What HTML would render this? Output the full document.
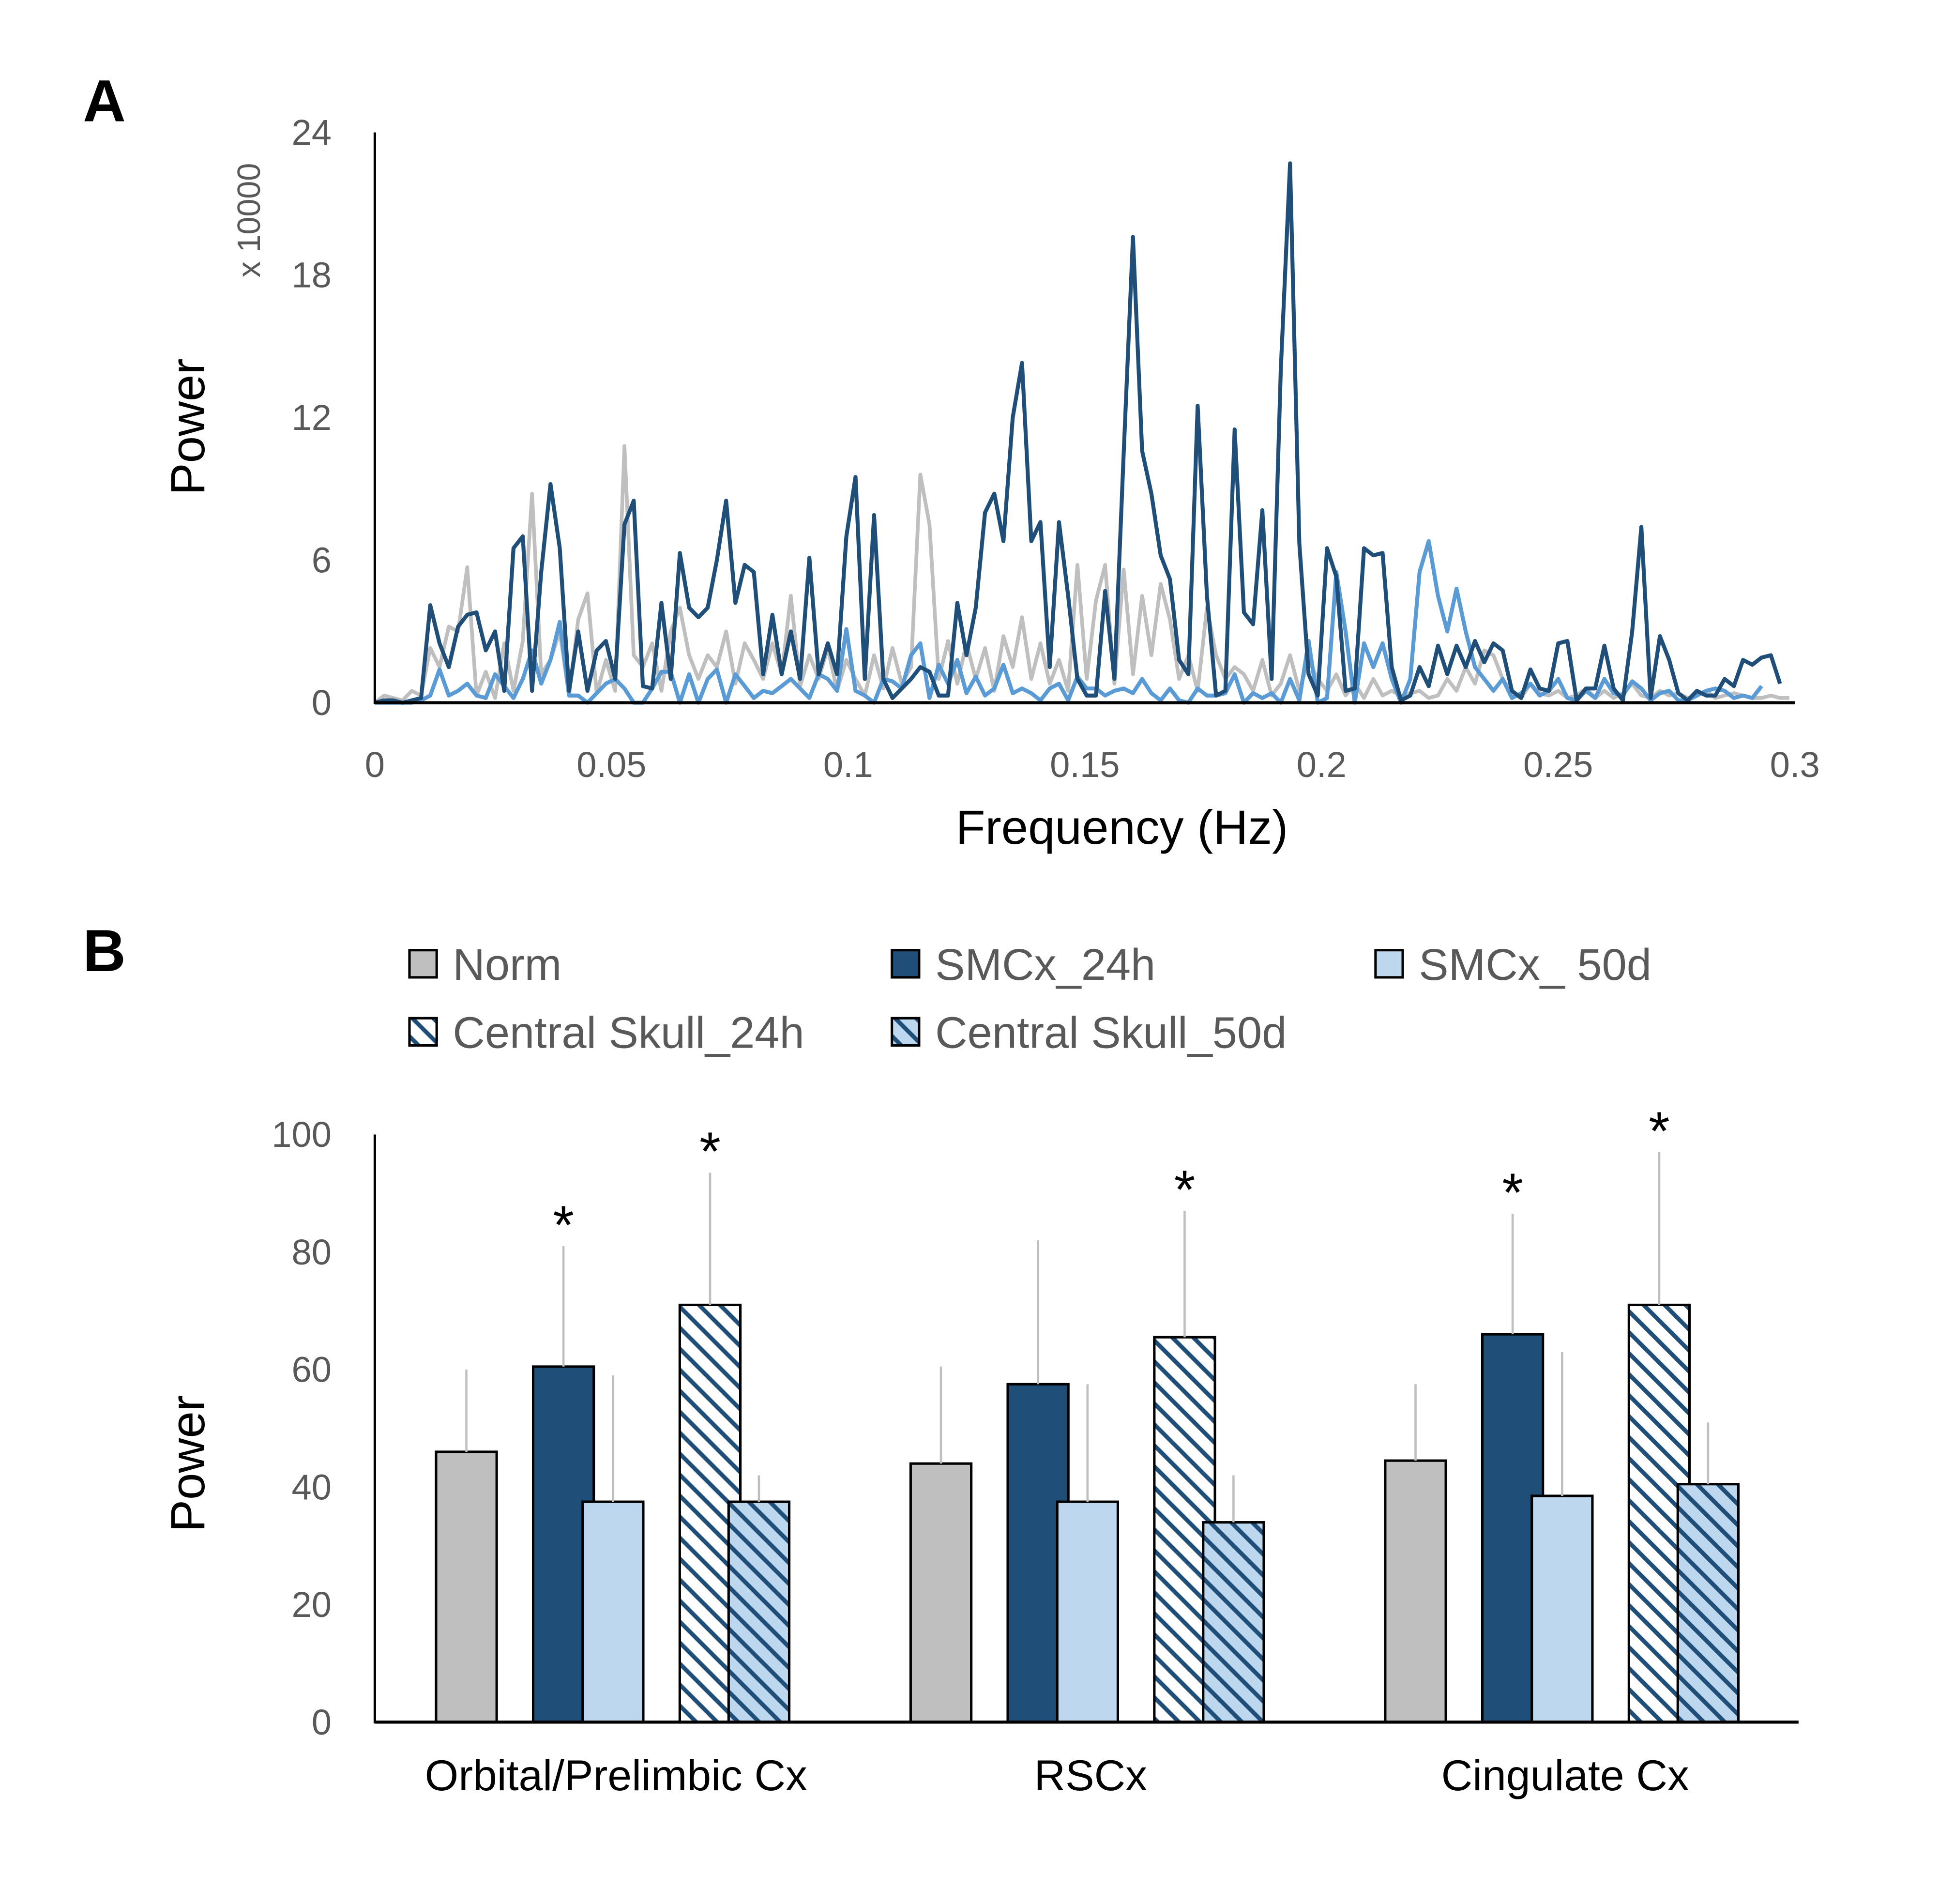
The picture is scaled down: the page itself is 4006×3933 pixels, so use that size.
<!DOCTYPE html>
<html><head><meta charset="utf-8"><style>
html,body{margin:0;padding:0;background:#fff;}
svg{display:block;font-family:"Liberation Sans","DejaVu Sans",sans-serif;}
</style></head><body>
<svg id="fig" width="4006" height="3933" viewBox="0 0 1567.5 1539" xmlns="http://www.w3.org/2000/svg">
<defs>
<pattern id="hatchW" patternUnits="userSpaceOnUse" width="12" height="12" patternTransform="rotate(-45)">
<rect width="12" height="12" fill="#ffffff"/><rect x="0" y="0" width="3.4" height="12" fill="#1f4e79"/>
</pattern>
<pattern id="hatchL" patternUnits="userSpaceOnUse" width="12" height="12" patternTransform="rotate(-45)">
<rect width="12" height="12" fill="#bdd7ee"/><rect x="0" y="0" width="3.4" height="12" fill="#1f4e79"/>
</pattern>
</defs>
<rect width="1567.5" height="1539" fill="#fff"/>
<text x="67" y="98" font-size="48" font-weight="bold">A</text>
<text x="67" y="785" font-size="48" font-weight="bold">B</text>
<g id="chartA"></g>
<g id="chartB"></g>
</svg>
<script>
// ---------- Panel A data ----------
const freqStep = 1 / 512;
const xTicksA = [0, 0.05, 0.1, 0.15, 0.2, 0.25, 0.3];
const yTicksA = [0, 6, 12, 18, 24];
const smc24h = [0,0.1,0.1,0,0.1,0.2,4.1,2.5,1.5,3.2,3.7,3.8,2.2,3.0,0.5,6.5,7.0,0.5,5.5,9.2,6.5,0.5,3.0,0.5,2.2,2.6,1.0,7.5,8.5,0.7,0.6,4.2,1.0,6.3,4.0,3.6,4.0,6.0,8.5,4.2,5.8,5.5,1.2,3.7,1.2,3.0,1.0,6.1,1.2,2.5,1.2,7.0,9.5,1.0,7.9,1.0,0.2,0.6,1.0,1.5,1.3,0.3,0.3,4.2,2.0,4.0,8.0,8.8,6.8,12.0,14.3,6.8,7.6,1.5,7.6,4.5,1.0,0.3,0.3,4.7,1.0,10.5,19.6,10.6,8.8,6.2,5.2,1.8,1.2,12.5,4.5,0.3,0.5,11.5,3.8,3.3,8.1,1.0,14.0,22.7,6.7,1.2,0.3,6.5,5.3,0.5,0.6,6.5,6.2,6.3,1.5,0.1,0.3,1.5,0.7,2.4,1.2,2.4,1.5,2.6,1.7,2.5,2.2,0.5,0.2,1.4,0.6,0.5,2.5,2.6,0.1,0.6,0.6,2.4,0.6,0.1,3.0,7.4,0.2,2.8,1.8,0.4,0.1,0.5,0.3,0.3,1.0,0.7,1.8,1.6,1.9,2.0,0.8];
const smc50d = [0,0,0,0,0,0.1,0.3,1.4,0.3,0.5,0.8,0.3,0.2,1.2,0.7,0.2,1.0,2.2,0.8,1.8,3.4,0.3,0.3,0,0.4,0.8,1.0,0.6,0,0,0.6,1.3,1.3,0,1.2,0,1.0,1.4,0,1.2,0.7,0.2,0.5,0.4,0.7,1.0,0.6,0.2,1.2,1.0,0.5,3.1,0.5,0.3,0,1.0,0.9,0.6,2.0,2.5,0.2,1.6,0.8,1.8,0.4,1.1,0.3,0.6,1.6,0.4,0.6,0.4,0.1,0.6,0.8,0.1,1.1,0.6,0.6,0.3,0.5,0.6,0.4,1.0,0.4,0.1,0.6,0.1,0,0.6,0.3,0.3,0.4,1.2,0,0.4,0.2,0.4,0,1.0,0.1,2.6,0,0.2,5.5,3.0,0,2.5,1.5,2.5,1.0,0,1.0,5.5,6.8,4.5,3.0,4.8,3.0,1.5,1.0,0.5,1.0,0.2,0.4,0.8,0.3,0.5,1.0,0.2,0.1,0.5,0.2,1.0,0.4,0.3,0.9,0.6,0.1,0.4,0.5,0.1,0.1,0.3,0.5,0.6,0.5,0.2,0.3,0.2,0.7];
const norm = [0,0.3,0.2,0.1,0.5,0.3,2.3,1.5,3.2,3.0,5.7,0.3,1.3,0.2,2.5,0.5,2.6,8.8,1.2,1.8,3.0,0.3,3.5,4.6,0.4,1.8,0.5,10.8,2.0,1.5,2.5,0.5,3.0,4.0,2.0,1.0,2.0,1.5,3.0,0.8,2.5,1.8,1.0,2.5,1.2,4.5,0.7,2.0,1.0,2.3,0.5,1.8,1.0,0.3,2.0,0.6,2.3,0.8,1.5,9.6,7.5,1.0,2.6,0.8,2.5,1.0,2.3,0.5,2.8,1.5,3.6,1.0,2.5,0.8,1.8,0.5,5.8,1.0,4.3,5.8,0.8,5.6,1.2,4.5,2.0,5.0,3.5,1.0,2.0,0.5,4.0,2.0,1.0,1.5,1.2,0.5,1.8,0.3,0.8,2.0,0.5,1.8,1.0,0.5,1.2,0.3,0.8,0.2,1.0,0.3,0.5,0.3,0.4,0.5,0.2,0.3,1.0,0.5,1.5,0.8,2.2,2.0,1.0,0.4,0.2,0.8,0.4,0.3,0.5,0.2,0.3,0.6,0.2,0.5,0.2,0.4,0.8,0.3,0.2,0.5,0.3,0.4,0.2,0.3,0.5,0.2,0.3,0.4,0.3,0.2,0.2,0.3,0.2,0.2];

// ---------- Panel B data ----------
const categories = ["Orbital/Prelimbic Cx", "RSCx", "Cingulate Cx"];
const seriesNames = ["Norm", "SMCx_24h", "SMCx_ 50d", "Central Skull_24h", "Central Skull_50d"];
const normVals = [46, 44, 44.5];
const smc24Vals = [60.5, 57.5, 66];
const smc50Vals = [37.5, 37.5, 38.5];
const cs24Vals = [71, 65.5, 71];
const cs50Vals = [37.5, 34, 40.5];
const normErr = [14, 16.5, 13];
const smc24Err = [20.5, 24.5, 20.5];
const smc50Err = [21.5, 20, 24.5];
const cs24Err = [22.5, 21.5, 26];
const cs50Err = [4.5, 8, 10.5];
const stars = [[false,true,false,true,false],[false,false,false,true,false],[false,true,false,true,false]];
const yTicksB = [0, 20, 40, 60, 80, 100];

const NS = "http://www.w3.org/2000/svg";
function mk(parent, tag, attrs, text){
  const e = document.createElementNS(NS, tag);
  for (const k in attrs) e.setAttribute(k, attrs[k]);
  if (text !== undefined) e.textContent = text;
  parent.appendChild(e);
  return e;
}

// ---- Panel A ----
const A = document.getElementById('chartA');
const ax0 = 303, ax1 = 1451, ay0 = 568, ay1 = 107;
const xA = f => ax0 + (Math.min(f, 0.3) / 0.3) * (ax1 - ax0);
const yA = v => ay0 - (v / 24) * (ay0 - ay1);
yTicksA.forEach(t => {
  const e = mk(A, 'text', {x: 268, y: yA(t) + 10, 'font-size': 29, fill: '#595959', 'text-anchor': 'end'}, String(t));
  
  
});
xTicksA.forEach(t => {
  const e = mk(A, 'text', {x: xA(t), y: 628, 'font-size': 29, fill: '#595959', 'text-anchor': 'middle'}, String(t));
  
  
});
function series(vals, color, name, w){
  const pts = vals.map((v, i) => xA(i * freqStep).toFixed(1) + ',' + yA(v).toFixed(1)).join(' ');
  const e = mk(A, 'polyline', {points: pts, fill: 'none', stroke: color, 'stroke-width': w, 'stroke-linejoin': 'round'});
  
  
}
series(norm, '#bfbfbf', 'norm-line', 3);
series(smc50d, '#5b9bd5', 'smcx-50d-line', 3.2);
series(smc24h, '#1f4e79', 'smcx-24h-line', 3.2);
let e;
e = mk(A, 'line', {x1: ax0, y1: ay1, x2: ax0, y2: ay0 + 1, stroke: '#000', 'stroke-width': 2});
 
e = mk(A, 'line', {x1: ax0, y1: ay0, x2: ax1, y2: ay0, stroke: '#000', 'stroke-width': 2.5});
 
e = mk(A, 'text', {x: 0, y: 0, 'font-size': 39, fill: '#000', 'text-anchor': 'middle', transform: 'translate(165,345) rotate(-90)'}, 'Power');
 
e = mk(A, 'text', {x: 0, y: 0, 'font-size': 26, fill: '#595959', 'text-anchor': 'middle', transform: 'translate(210,178) rotate(-90)'}, 'x 10000');
 
e = mk(A, 'text', {x: 907, y: 682, 'font-size': 39, fill: '#000', 'text-anchor': 'middle'}, 'Frequency (Hz)');
 

// ---- Panel B ----
const B = document.getElementById('chartB');
const bx0 = 303, bx1 = 1454, by0 = 1392, by1 = 917;
const yB = v => by0 - (v / 100) * (by0 - by1);
const groupW = (bx1 - bx0) / categories.length;
const barOffsets = [49.5, 128, 168, 246.5, 286];
const barW = 49;
const fills = ['#bfbfbf', '#1f4e79', '#bdd7ee', 'url(#hatchW)', 'url(#hatchL)'];
const vals = [normVals, smc24Vals, smc50Vals, cs24Vals, cs50Vals];
const errs = [normErr, smc24Err, smc50Err, cs24Err, cs50Err];
yTicksB.forEach(t => {
  e = mk(B, 'text', {x: 268, y: yB(t) + 10, 'font-size': 29, fill: '#595959', 'text-anchor': 'end'}, String(t));
  
  
});
categories.forEach((c, g) => {
  const gx = bx0 + g * groupW;
  vals.forEach((arr, s) => {
    const x = gx + barOffsets[s];
    const v = arr[g];
    const er = errs[s][g];
    const r = mk(B, 'rect', {x: x, y: yB(v), width: barW, height: yB(0) - yB(v), fill: fills[s], stroke: '#000', 'stroke-width': 2});
    
    
    const l = mk(B, 'line', {x1: x + barW / 2, y1: yB(v), x2: x + barW / 2, y2: yB(v + er), stroke: '#bfbfbf', 'stroke-width': 1.8});
    
    
    if (stars[g][s]) {
      const st = mk(B, 'text', {x: x + barW / 2, y: yB(v + er) - 2, 'font-size': 44, fill: '#000', 'text-anchor': 'middle'}, '*');
      
      
    }
  });
  const t = mk(B, 'text', {x: gx + 195, y: 1447, 'font-size': 35, fill: '#000', 'text-anchor': 'middle'}, c);
  
  
});
e = mk(B, 'line', {x1: bx0, y1: by1, x2: bx0, y2: by0 + 1, stroke: '#000', 'stroke-width': 2});
 
e = mk(B, 'line', {x1: bx0, y1: by0, x2: bx1, y2: by0, stroke: '#000', 'stroke-width': 2.5});
 
e = mk(B, 'text', {x: 0, y: 0, 'font-size': 39, fill: '#000', 'text-anchor': 'middle', transform: 'translate(165,1183) rotate(-90)'}, 'Power');
 
// legend
const legendPos = [[331,768],[721,768],[1112,768],[331,823],[721,823]];
seriesNames.forEach((n, s) => {
  const [lx, ly] = legendPos[s];
  const r = mk(B, 'rect', {x: lx, y: ly, width: 22, height: 22, fill: fills[s], stroke: '#000', 'stroke-width': 2});
  
  
  const t = mk(B, 'text', {x: lx + 35, y: ly + 24, 'font-size': 36, fill: '#595959'}, n);
  
  
});
</script>
</body></html>
